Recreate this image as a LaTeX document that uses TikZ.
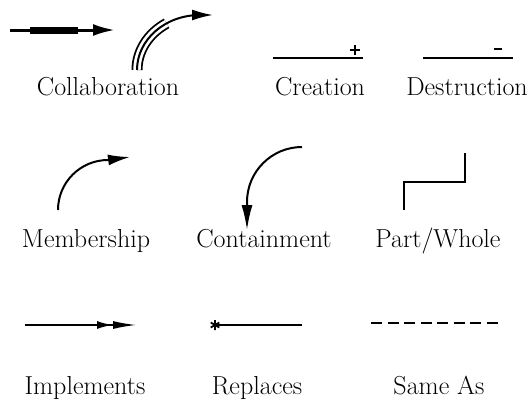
\documentclass[tikz,border=0pt]{standalone}
\usetikzlibrary{arrows.meta}
\tikzset{
  lbl/.style={anchor=base,font=\fontsize{26}{30}\selectfont},
  rel/.style={line width=2pt},
  sgn/.style={line width=2.6pt},
  head/.style={-{Latex[length=22pt,width=11pt]}},
}
\begin{document}
\begin{tikzpicture}[x=1pt,y=-1pt]
  \useasboundingbox (0,0) rectangle (532,400);
  \path
  % top row
  (10,30) coordinate(colA)
  (30,30) coordinate(colB)
  (78,30) coordinate(colC)
  (115,30) coordinate(colD)
  (137,70) coordinate(colE)
  (213,15) coordinate(colF)
  (108,95) node[lbl](collab) {Collaboration}

  (273,58) coordinate(creA)
  (363,58) coordinate(creB)
  (355,50) coordinate(plus)
  (320,95) node[lbl](crea) {Creation}

  (423,58) coordinate(desA)
  (513,58) coordinate(desB)
  (498,49) coordinate(minus)
  (467,95) node[lbl](destr) {Destruction}

  % middle row
  (58,210) coordinate(memA)
  (130,157) coordinate(memB)
  (86,247) node[lbl](memb) {Membership}

  (302,147) coordinate(conA)
  (247,230) coordinate(conB)
  (264,247) node[lbl](cont) {Containment}

  (404,210) coordinate(pwA)
  (404,182) coordinate(pwB)
  (465,182) coordinate(pwC)
  (465,153) coordinate(pwD)
  (438,247) node[lbl](partw) {Part/Whole}

  % bottom row
  (25,325) coordinate(impA)
  (137,325) coordinate(impB)
  (85,394) node[lbl](impl) {Implements}

  (215,325) coordinate(repA)
  (302,325) coordinate(repB)
  (257,394) node[lbl](repl) {Replaces}

  (371,323) coordinate(samA)
  (500,323) coordinate(samB)
  (439,394) node[lbl](same) {Same As}
  ;

  \draw[line width=3pt,-{Latex[length=22pt,width=12pt]}] (colA) -- (colD);
  \draw[line width=7pt] (colB) -- (colC);
  \draw[line width=11pt] (colE) arc[start angle=180,end angle=238,x radius=63,y radius=55];
  \draw[line width=7.4pt,white] (colE) arc[start angle=180,end angle=238,x radius=63,y radius=55];
  \draw[rel,-{Latex[length=21pt,width=11pt]}] (colE)
    arc[start angle=180,end angle=270,x radius=63,y radius=55] -- (colF);

  \draw[rel] (creA) -- (creB);
  \draw[sgn] (plus) +(-5,0) -- +(5,0) (plus) +(0,-5) -- +(0,5);
  \draw[rel] (desA) -- (desB);
  \draw[sgn] (minus) +(-4,0) -- +(4,0);

  \draw[rel,head] (memA)
    arc[start angle=180,end angle=270,x radius=50,y radius=50] -- (memB);
  \draw[rel,-{Latex[length=25pt,width=11pt]}] (conA)
    arc[start angle=270,end angle=180,x radius=55,y radius=55] -- (conB);
  \draw[rel] (pwA) -- (pwB) -- (pwC) -- (pwD);

  \draw[rel,-{Latex[length=16pt,width=8pt]Latex[length=24pt,width=8pt]}] (impA) -- (impB);
  \draw[rel] (repA) -- (repB);
  \draw[line width=1.8pt] (repA) +(0,-5) -- +(0,5)
    (repA) +(-4.3,-2.5) -- +(4.3,2.5) (repA) +(-4.3,2.5) -- +(4.3,-2.5);
  \draw[rel,dash pattern=on 11pt off 5.5pt] (samA) -- (samB);
\end{tikzpicture}
\end{document}
